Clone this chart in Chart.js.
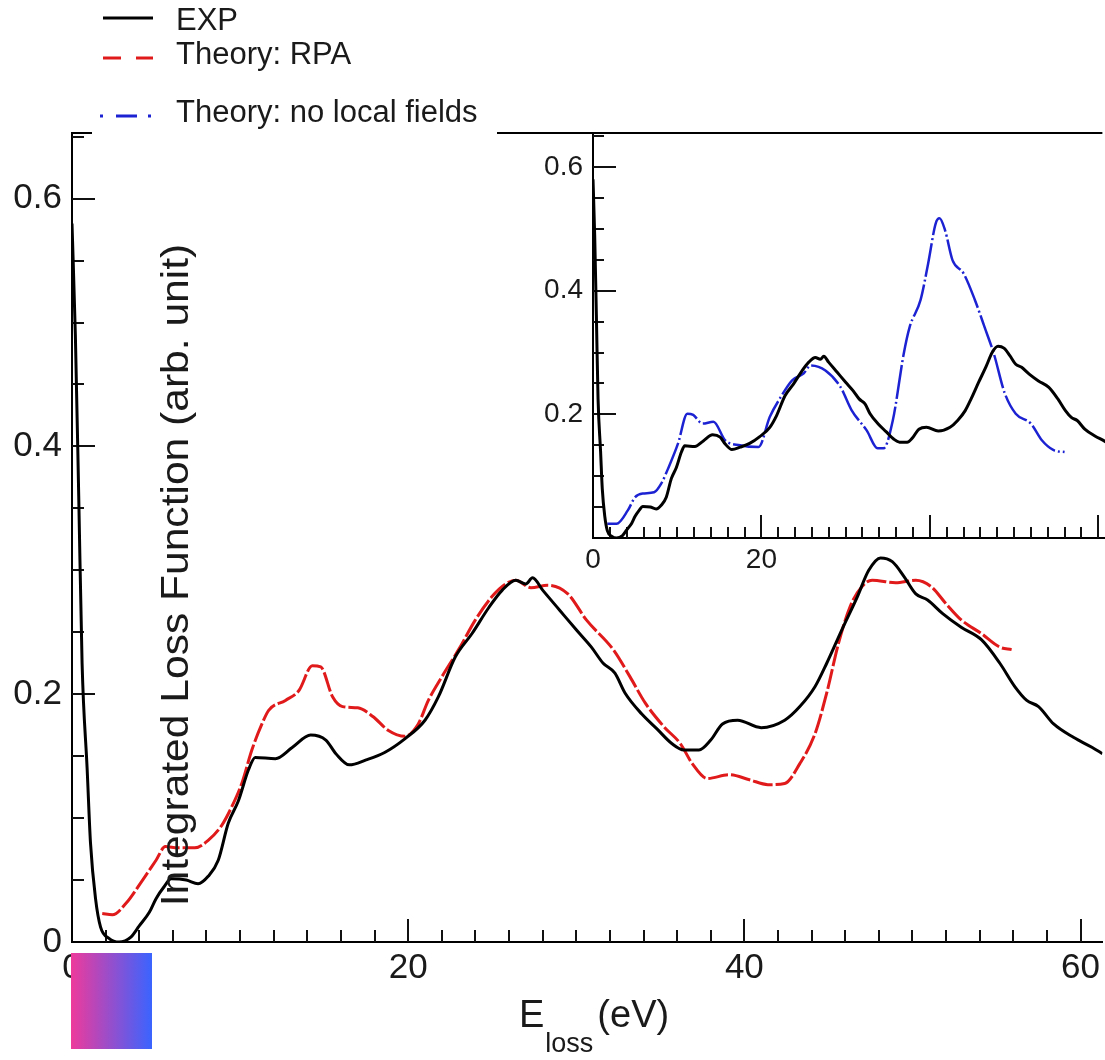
<!DOCTYPE html>
<html>
<head>
<meta charset="utf-8">
<script src="https://cdn.jsdelivr.net/npm/chart.js@4.4.0/dist/chart.umd.min.js"></script>
<style>
    html, body { margin: 0; padding: 0; background: #fff; }
    #marco { position: relative; width: 1105px; height: 1060px; overflow: hidden; }
    #principal { position: absolute; left: 0; top: 0; }
    #inserto { position: absolute; left: 500px; top: 0; }
</style>
</head>
<body>
<div id="marco">
    <canvas id="principal" width="1105" height="1060"></canvas>
    <canvas id="inserto" width="605" height="600"></canvas>
</div>
<script>
// Datos (E_loss en eV, función de pérdida integrada)
const nombresSeries = ['EXP', 'Theory: RPA', 'Theory: no local fields'];

const expX = [0, 0.2, 0.4, 0.6, 0.9, 1.1, 1.4, 1.7, 2.2, 2.8, 3.5, 4.0, 4.6, 5.0, 5.5, 5.9, 6.8, 7.5, 8.1, 8.7,
    9.3, 9.9, 10.5, 10.9, 12.1, 13.1, 14.2, 15.1, 15.7, 16.5, 17.5, 18.6, 19.8, 21.0, 21.8, 22.8, 23.8, 24.8, 25.6, 26.4,
    27.0, 27.4, 28.0, 29.0, 30.0, 30.9, 31.6, 32.3, 32.9, 33.9, 34.8, 35.7, 36.4, 37.3, 38.0, 38.7, 39.6, 41.0, 42.4, 43.3,
    44.2, 44.9, 45.8, 46.7, 47.4, 48.1, 48.8, 49.5, 50.2, 50.9, 51.8, 52.9, 54.1, 55.2, 56.1, 56.8, 57.5, 58.4, 59.6, 60.7, 61.3];
const expY = [0.58, 0.49, 0.36, 0.225, 0.14, 0.08, 0.035, 0.012, 0.003, 0.0, 0.004, 0.013, 0.024, 0.035, 0.045, 0.051, 0.050, 0.047, 0.053, 0.066,
    0.096, 0.114, 0.139, 0.149, 0.148, 0.157, 0.167, 0.163, 0.152, 0.143, 0.147, 0.153, 0.164, 0.179, 0.198, 0.230, 0.249, 0.270, 0.284, 0.292,
    0.289, 0.294, 0.284, 0.268, 0.252, 0.238, 0.225, 0.217, 0.201, 0.184, 0.172, 0.160, 0.155, 0.155, 0.163, 0.176, 0.179, 0.173, 0.179, 0.190,
    0.206, 0.225, 0.252, 0.278, 0.300, 0.310, 0.307, 0.295, 0.281, 0.276, 0.265, 0.254, 0.244, 0.225, 0.206, 0.195, 0.190, 0.176, 0.165, 0.157, 0.152];

const rpaX = [1.8, 2.4, 3.2, 4.2, 5.0, 5.55, 6.3, 7.3, 8.1, 8.9, 9.5, 10.1, 10.7, 11.3, 11.7, 12.7, 13.5, 14.3, 14.8, 15.5,
    16.1, 17.0, 17.9, 18.8, 19.8, 20.6, 21.2, 22.0, 23.0, 24.0, 25.0, 25.8, 26.4, 27.3, 28.3, 29.5, 30.6, 32.2, 33.2, 34.1,
    35.2, 36.2, 36.9, 37.8, 39.1, 40.3, 41.4, 42.4, 43.3, 44.2, 44.9, 45.6, 46.3, 47.0, 47.6, 49.0, 50.2, 51.1, 52.0, 52.9,
    54.1, 55.2, 55.9];
const rpaY = [0.023, 0.022, 0.031, 0.050, 0.066, 0.077, 0.076, 0.076, 0.082, 0.094, 0.109, 0.128, 0.155, 0.176, 0.187, 0.195, 0.203, 0.223, 0.222, 0.198,
    0.190, 0.189, 0.182, 0.171, 0.166, 0.176, 0.195, 0.214, 0.236, 0.260, 0.279, 0.289, 0.292, 0.286, 0.288, 0.281, 0.260, 0.236, 0.214, 0.193,
    0.174, 0.160, 0.144, 0.132, 0.135, 0.131, 0.127, 0.128, 0.144, 0.168, 0.201, 0.241, 0.271, 0.287, 0.292, 0.290, 0.292, 0.287, 0.273, 0.260,
    0.249, 0.238, 0.236];

const sinCamposX = [1.7, 2.8, 4.15, 5.0, 5.9, 7.25, 8.1, 9.0, 10.1, 11.2, 11.9, 13.0, 14.3, 15.7, 17.45, 19.65, 21.0, 22.3, 23.65, 25.0,
    25.85, 27.6, 29.4, 30.7, 32.5, 33.8, 34.5, 35.6, 36.9, 37.6, 38.9, 39.8, 40.7, 41.15, 41.8, 42.7, 44.0, 45.35, 46.5, 47.6,
    48.9, 50.2, 52.0, 53.3, 54.7, 56.0];
const sinCamposY = [0.023, 0.023, 0.045, 0.066, 0.072, 0.074, 0.088, 0.115, 0.153, 0.201, 0.199, 0.185, 0.188, 0.158, 0.150, 0.147, 0.196, 0.228, 0.255, 0.266,
    0.279, 0.271, 0.244, 0.207, 0.174, 0.145, 0.145, 0.190, 0.298, 0.341, 0.385, 0.444, 0.509, 0.517, 0.498, 0.449, 0.428, 0.385, 0.341, 0.298,
    0.234, 0.201, 0.185, 0.158, 0.142, 0.139];

// Etiquetas de los ejes
const etiquetasX = [0, 20, 40, 60];
const etiquetasY = [0, 0.2, 0.4, 0.6];
const etiquetasInsertoX = [0, 20];
const etiquetasInsertoY = [0.2, 0.4, 0.6];

const fuente = '"Liberation Sans", Arial, Helvetica, sans-serif';
const colorRPA = '#e01a1a';
const colorSinCampos = '#1c22d2';
Chart.defaults.font.family = fuente;
Chart.defaults.color = '#1a1a1a';

const puntos = (xs, ys) => xs.map((x, i) => ({ x: x, y: ys[i] }));
const enLista = (lista, v) => lista.some(t => Math.abs(t - v) < 1e-6);

// Marcas de los ejes hacia dentro (mayores y menores)
const marcasInternas = {
    id: 'marcasInternas',
    beforeDatasetsDraw(chart, args, opts) {
        const { ctx, chartArea: a, scales: { x, y } } = chart;
        ctx.save();
        ctx.strokeStyle = '#111';
        ctx.lineWidth = 2;
        ctx.beginPath();
        for (let i = 1; i * opts.pasoX <= x.max + 1e-9; i++) {
            const px = Math.round(x.getPixelForValue(i * opts.pasoX));
            const largo = i % opts.cadaX === 0 ? opts.mayor : opts.menor;
            ctx.moveTo(px, a.bottom);
            ctx.lineTo(px, a.bottom - largo);
        }
        for (let i = 1; i * opts.pasoY <= y.max + 1e-9; i++) {
            const py = Math.round(y.getPixelForValue(i * opts.pasoY));
            const largo = i % opts.cadaY === 0 ? opts.mayor : opts.menor;
            ctx.moveTo(a.left, py);
            ctx.lineTo(a.left + largo, py);
        }
        ctx.stroke();
        ctx.restore();
    }
};

// Configuración común para los dos gráficos
const configComun = {
    responsive: false,
    animation: false,
    events: [],
    elements: {
        point: { radius: 0 },
        line: { cubicInterpolationMode: 'monotone', fill: false }
    }
};

function ejes(xMax, yMax, anchoY, altoX, tam, padX, etiqX, etiqY) {
    return {
        x: {
            type: 'linear', min: 0, max: xMax,
            afterFit: s => { s.height = altoX; },
            grid: { display: false, drawTicks: false },
            border: { display: true, color: '#000', width: 2 },
            ticks: {
                stepSize: 20, includeBounds: false, autoSkip: false, maxRotation: 0,
                padding: padX, font: { size: tam },
                callback: v => enLista(etiqX, v) ? String(v) : ''
            }
        },
        y: {
            type: 'linear', min: 0, max: yMax,
            afterFit: s => { s.width = anchoY; },
            grid: { display: false, drawTicks: false },
            border: { display: true, color: '#000', width: 2 },
            ticks: {
                stepSize: 0.2, includeBounds: false, autoSkip: false,
                padding: 10, font: { size: tam },
                callback: v => enLista(etiqY, v) ? (v === 0 ? '0' : v.toFixed(1)) : ''
            }
        }
    };
}

// Marco superior, leyenda, títulos y el cuadro de color
const decoracion = {
    id: 'decoracion',
    beforeDatasetsDraw(chart) {
        const { ctx, chartArea: a } = chart;
        ctx.save();
        ctx.strokeStyle = '#000';
        ctx.lineWidth = 2;
        ctx.beginPath();
        ctx.moveTo(a.left - 1, a.top);
        ctx.lineTo(a.right, a.top);
        ctx.stroke();
        ctx.restore();
    },
    afterDraw(chart) {
        const { ctx } = chart;
        ctx.save();

        // Leyenda
        ctx.fillStyle = '#fff';
        ctx.fillRect(92, 0, 405, 137);
        const items = [
            { color: '#000', guion: [], x0: 103, y: 18, base: 30 },
            { color: colorRPA, guion: [18, 15], x0: 103, y: 58, base: 64 },
            { color: colorSinCampos, guion: [3, 13, 21, 11, 3, 40], x0: 100, y: 116, base: 122 }
        ];
        ctx.font = '31px ' + fuente;
        ctx.textBaseline = 'alphabetic';
        items.forEach((it, i) => {
            ctx.strokeStyle = it.color;
            ctx.lineWidth = 3;
            ctx.setLineDash(it.guion);
            ctx.beginPath();
            ctx.moveTo(it.x0, it.y);
            ctx.lineTo(153, it.y);
            ctx.stroke();
            ctx.fillStyle = '#1a1a1a';
            ctx.fillText(nombresSeries[i], 176, it.base);
        });
        ctx.setLineDash([]);

        // Título del eje Y (algo estrecho, como en la figura)
        ctx.save();
        ctx.translate(178, 575);
        ctx.rotate(-Math.PI / 2);
        ctx.scale(1.12, 1);
        ctx.font = '38px ' + fuente;
        ctx.textAlign = 'center';
        ctx.textBaseline = 'middle';
        ctx.fillText('Integrated Loss Function (arb. unit)', 0, 0);
        ctx.restore();

        // Título del eje X con subíndice
        let px = 519;
        ctx.fillStyle = '#1a1a1a';
        ctx.textAlign = 'left';
        ctx.font = '38px ' + fuente;
        ctx.fillText('E', px, 1027);
        px += ctx.measureText('E').width + 1;
        ctx.font = '27px ' + fuente;
        ctx.fillText('loss', px, 1052);
        px += ctx.measureText('loss').width + 4;
        ctx.font = '38px ' + fuente;
        ctx.fillText('(eV)', px, 1027);

        // Cuadro con degradado
        const grad = ctx.createLinearGradient(71, 0, 152, 0);
        grad.addColorStop(0, '#ee3a9b');
        grad.addColorStop(1, '#3a64ff');
        ctx.fillStyle = grad;
        ctx.fillRect(71, 953, 81, 96);
        ctx.restore();
    }
};

// Gráfico principal
new Chart(document.getElementById('principal'), {
    type: 'line',
    data: {
        datasets: [{
            label: nombresSeries[0],
            data: puntos(expX, expY),
            borderColor: '#000',
            borderWidth: 3
        }, {
            label: nombresSeries[1],
            data: puntos(rpaX, rpaY),
            borderColor: colorRPA,
            borderWidth: 3,
            borderDash: [20, 3]
        }]
    },
    options: {
        ...configComun,
        layout: { padding: { top: 133, left: 0, right: 0, bottom: 0 }, autoPadding: false },
        plugins: {
            legend: { display: false },
            tooltip: { enabled: false },
            marcasInternas: { pasoX: 2, cadaX: 10, pasoY: 0.05, cadaY: 4, mayor: 23, menor: 12 }
        },
        scales: ejes(61.3, 0.653, 72, 118, 35, 5, etiquetasX, etiquetasY)
    },
    plugins: [marcasInternas, decoracion]
});

// Gráfico insertado (EXP contra teoría sin campos locales)
new Chart(document.getElementById('inserto'), {
    type: 'line',
    data: {
        datasets: [{
            label: nombresSeries[0],
            data: puntos(expX, expY),
            borderColor: '#000',
            borderWidth: 3
        }, {
            label: nombresSeries[2],
            data: puntos(sinCamposX, sinCamposY),
            borderColor: colorSinCampos,
            borderWidth: 2.5,
            borderDash: [34, 3, 2, 3]
        }]
    },
    options: {
        ...configComun,
        layout: { padding: { top: 133, left: 0, right: 0, bottom: 0 }, autoPadding: false },
        plugins: {
            legend: { display: false },
            tooltip: { enabled: false },
            marcasInternas: { pasoX: 2, cadaX: 10, pasoY: 0.05, cadaY: 4, mayor: 23, menor: 11 }
        },
        scales: ejes(60.8, 0.655, 93, 62, 28, 5, etiquetasInsertoX, etiquetasInsertoY)
    },
    plugins: [marcasInternas]
});
</script>
</body>
</html>
